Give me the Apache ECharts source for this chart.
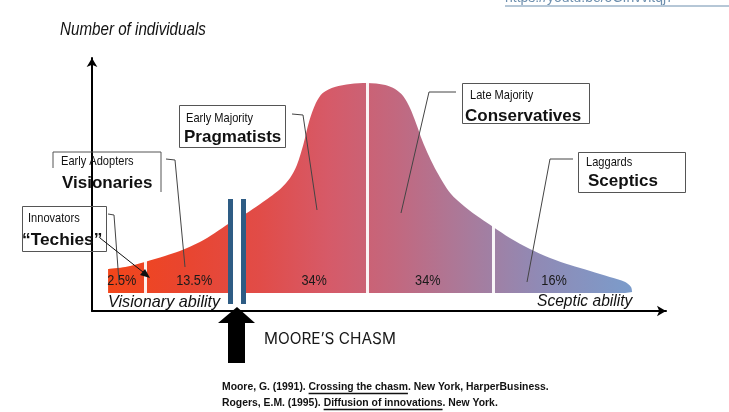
<!DOCTYPE html>
<html><head><meta charset="utf-8">
<script src="https://cdn.jsdelivr.net/npm/echarts@6/dist/echarts.min.js"></script>
<style>html,body{margin:0;padding:0;background:#fff}#c{width:729px;height:412px}</style>
</head><body><div id="c"></div>
<script>
// Adoption curve (x: adoption timeline 0-100, y: relative number of individuals)
const curveX = [2.8, 5.8, 9.2, 12.7, 15.3, 18.8, 21.4, 24.0, 26.7, 29.3, 31.0, 32.8, 34.5, 35.7, 36.8, 37.8, 39.0, 40.2, 42.3, 45.0, 47.9, 51.1, 52.8, 54.2, 55.4, 56.5, 57.5, 58.7, 60.1, 62.4, 65.0, 67.6, 69.9, 72.8, 76.3, 79.8, 83.3, 86.8, 90.2, 92.9, 93.9, 94.1];
const curveY = [12, 13, 15.5, 18.5, 21, 25.5, 30, 35, 39.5, 44.5, 48, 52, 57.5, 64, 74, 85.5, 95, 100, 103, 104.5, 105, 104, 102, 98.5, 92.5, 84.5, 76.5, 68.5, 60.5, 50, 43, 37.5, 33, 27.5, 22, 17.5, 14, 11, 8, 5.5, 3, 0.5];
const segmentLabels = ['2.5%', '13.5%', '34%', '34%', '16%'];
const segmentLabelX = [5.2, 17.8, 38.7, 58.5, 80.5];
const segmentLabelY = 6;
const dividerX = [9.2, 47.9, 69.9];
const dividerTop = [16, 105.5, 33.5];
const chasmBarsX = [24.1, 26.4];
const chasmGapX = 25.25;
const chasmBottom = -5.5, chasmTop = 47;

const SANS = '"Liberation Sans",Arial,Helvetica,sans-serif';
const NARROW_SCALE = 0.82;

const chart = echarts.init(document.getElementById('c'), null, {renderer: 'canvas'});

const mctx = document.createElement('canvas').getContext('2d');
function tw(t, font) { mctx.font = font; return mctx.measureText(t).width; }

function txt(text, x, y, font, fill, sx, vAlign) {
  return {type: 'text', z: 50, x: x, y: y, scaleX: sx || 1,
    style: {text, x: 0, y: 0, font, fill: fill || '#111', textAlign: 'left', textVerticalAlign: vAlign || 'middle', align: 'left', verticalAlign: vAlign || 'middle'}};
}
function narrow(text, x, y, font, fill) { return txt(text, x, y, font, fill, NARROW_SCALE); }
function poly(points, stroke, w) {
  return {type: 'polyline', z: 40, shape: {points}, style: {stroke: stroke || '#333', lineWidth: w || 1, fill: null}};
}
function box(x1, y1, x2, y2) {
  return {type: 'rect', z: 40, shape: {x: x1 + 0.5, y: y1 + 0.5, width: x2 - x1, height: y2 - y1}, style: {stroke: '#555', lineWidth: 1, fill: 'rgba(255,255,255,0)'}};
}

const refFont = 'bold 10.4px ' + SANS;
function refLine(parts, x, y) {
  const els = [];
  let cx = x;
  parts.forEach(p => {
    els.push(txt(p.t, cx, y, refFont, '#111'));
    const w = tw(p.t, refFont);
    if (p.u) els.push({type: 'line', z: 50, shape: {x1: cx, y1: y + 6.5, x2: cx + w, y2: y + 6.5}, style: {stroke: '#111', lineWidth: 1.3}});
    cx += w;
  });
  return els;
}

const graphics = [
  // url at top (mostly cropped)
  txt('https://youtu.be/oCIhvvitqj7', 505, 5, '14px ' + SANS, '#6d8fae', 1, 'bottom'),
  {type: 'line', z: 50, shape: {x1: 505, y1: 6, x2: 729, y2: 6}, style: {stroke: '#6d8fae', lineWidth: 1}},
  narrow('Number of individuals', 60, 30, 'italic 18.5px ' + SANS, '#111'),
  txt('Visionary ability', 108, 302, 'italic 16.2px ' + SANS, '#111'),
  txt('Sceptic ability', 537, 302, 'italic 15.6px ' + SANS, '#111'),
  // Innovators
  box(22, 206, 106, 251),
  narrow('Innovators', 28, 218, '13.5px ' + SANS),
  txt('\u201CTechies\u201D', 22, 240, 'bold 17.3px ' + SANS),
  poly([[108, 214], [114, 215], [119, 282]], '#444'),
  {type: 'line', z: 40, shape: {x1: 100, y1: 238, x2: 148, y2: 276}, style: {stroke: '#111', lineWidth: 1}},
  {type: 'polygon', z: 40, shape: {points: [[150, 278], [140, 275], [145, 269]]}, style: {fill: '#111'}},
  // Early adopters
  poly([[53, 168], [53, 152], [161, 152], [161, 192]], '#555'),
  narrow('Early Adopters', 61, 161, '13.5px ' + SANS),
  txt('Visionaries', 62, 183, 'bold 17px ' + SANS),
  poly([[166, 159], [175, 160], [185, 267]], '#444'),
  // Early majority
  box(179, 105, 285, 147),
  narrow('Early Majority', 186, 118, '13.5px ' + SANS),
  txt('Pragmatists', 184, 137, 'bold 17px ' + SANS),
  poly([[292, 114], [303, 115], [317, 210]], '#444'),
  // Late majority
  box(462, 83, 589, 123),
  narrow('Late Majority', 470, 95, '13.5px ' + SANS),
  txt('Conservatives', 465, 116, 'bold 17px ' + SANS),
  poly([[456, 92], [429, 92], [401, 213]], '#444'),
  // Laggards
  box(578, 152, 685, 192),
  narrow('Laggards', 586, 162, '13.5px ' + SANS),
  txt('Sceptics', 588, 181, 'bold 17px ' + SANS),
  poly([[573, 159], [550, 159], [527, 282]], '#444'),
  // Chasm arrow
  {type: 'polygon', z: 40, shape: {points: [[237, 307], [255, 323], [245, 323], [245, 363], [228, 363], [228, 323], [218, 323]]}, style: {fill: '#000'}},
  txt('MOORE\u2019S CHASM', 264, 339, '15.4px Inter,' + SANS, '#1a1a1a'),
].concat(
  refLine([{t: 'Moore, G. (1991). '}, {t: 'Crossing the chasm', u: true}, {t: '. New York, HarperBusiness.'}], 222, 387),
  refLine([{t: 'Rogers, E.M. (1995). '}, {t: 'Diffusion of innovations', u: true}, {t: '. New York.'}], 222, 403)
);

const white = {color: 'rgba(255,255,255,0.92)', width: 3, type: 'solid'};
const markData = dividerX.map((x, i) => [{coord: [x, 0], lineStyle: white}, {coord: [x, dividerTop[i]]}]);
markData.push([{coord: [chasmGapX, 0], lineStyle: {color: '#fff', width: 8, type: 'solid'}}, {coord: [chasmGapX, chasmTop]}]);
chasmBarsX.forEach(x => markData.push([{coord: [x, chasmBottom], lineStyle: {color: '#2e5c84', width: 5, type: 'solid'}}, {coord: [x, chasmTop]}]));

const option = {
  backgroundColor: '#fff',
  animation: false,
  grid: {left: 92, right: 63, top: 58, bottom: 101},
  xAxis: {type: 'value', min: 0, max: 100,
    axisLine: {show: true, onZero: false, symbol: ['none', 'arrow'], symbolSize: [8, 9], lineStyle: {color: '#000', width: 2}},
    axisTick: {show: false}, axisLabel: {show: false}, splitLine: {show: false}},
  yAxis: {type: 'value', min: -9, max: 117.5,
    axisLine: {show: true, onZero: false, symbol: ['none', 'arrow'], symbolSize: [8, 9], lineStyle: {color: '#000', width: 2}},
    axisTick: {show: false}, axisLabel: {show: false}, splitLine: {show: false}},
  series: [
    {type: 'line', data: curveX.map((x, i) => [x, curveY[i]]), smooth: 0.3, symbol: 'none', silent: true,
      lineStyle: {width: 0, color: 'transparent'},
      areaStyle: {opacity: 1, color: new echarts.graphic.LinearGradient(0, 0, 1, 0, [
        {offset: 0, color: '#f2461a'}, {offset: 0.14, color: '#e9452e'}, {offset: 0.29, color: '#e14c48'},
        {offset: 0.42, color: '#d65a68'}, {offset: 0.55, color: '#c2687f'}, {offset: 0.69, color: '#a87b9c'},
        {offset: 0.82, color: '#908ab5'}, {offset: 1, color: '#7b9ccb'}])},
      markLine: {silent: true, symbol: 'none', label: {show: false}, animation: false, data: markData}
    },
    {type: 'custom', silent: true, z: 5,
      data: segmentLabels.map((t, i) => [segmentLabelX[i], segmentLabelY, t]),
      renderItem: function (params, api) {
        const p = api.coord([api.value(0), api.value(1)]);
        const t = segmentLabels[params.dataIndex];
        return {type: 'text', x: p[0], y: p[1], scaleX: NARROW_SCALE,
          style: {text: t, x: 0, y: 0, font: '15.5px ' + SANS, fill: '#1a1a1a', align: 'center', verticalAlign: 'middle', textAlign: 'center', textVerticalAlign: 'middle'}};
      }
    }
  ],
  graphic: {elements: graphics}
};
chart.setOption(option);
</script>
</body></html>
